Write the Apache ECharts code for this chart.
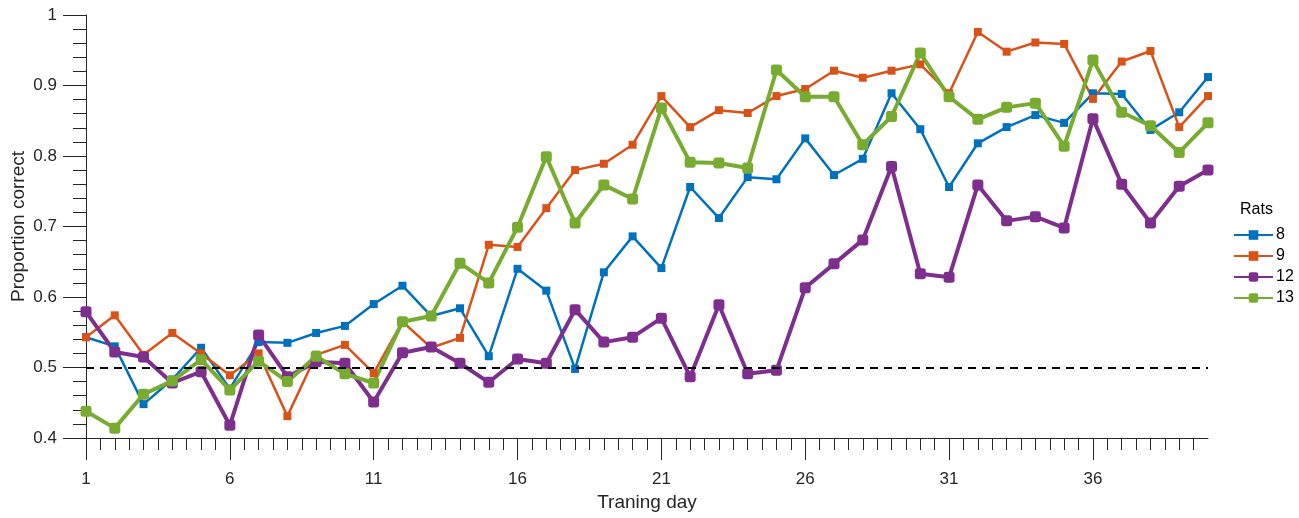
<!DOCTYPE html>
<html>
<head>
<meta charset="utf-8">
<script src="https://cdn.jsdelivr.net/npm/echarts@6/dist/echarts.min.js"></script>
<style>
html,body{margin:0;padding:0;background:#fff;}
#chart{width:1299px;height:518px;}
</style>
</head>
<body>
<div id="chart"></div>
<script>
var days = [1,2,3,4,5,6,7,8,9,10,11,12,13,14,15,16,17,18,19,20,21,22,23,24,25,26,27,28,29,30,31,32,33,34,35,36,37,38,39,40];
var rat8  = [0.543,0.530,0.448,0.483,0.528,0.470,0.536,0.535,0.549,0.559,0.590,0.616,0.573,0.584,0.516,0.640,0.609,0.498,0.635,0.686,0.641,0.756,0.712,0.770,0.767,0.825,0.773,0.796,0.889,0.838,0.756,0.818,0.841,0.858,0.847,0.889,0.888,0.837,0.862,0.912];
var rat9  = [0.543,0.574,0.518,0.549,0.520,0.489,0.520,0.431,0.518,0.532,0.492,0.565,0.528,0.542,0.674,0.671,0.726,0.780,0.789,0.816,0.885,0.841,0.865,0.861,0.885,0.895,0.921,0.911,0.921,0.930,0.889,0.976,0.948,0.961,0.959,0.881,0.934,0.949,0.841,0.885];
var rat12 = [0.579,0.522,0.515,0.478,0.494,0.418,0.546,0.487,0.508,0.506,0.451,0.521,0.529,0.506,0.479,0.512,0.506,0.582,0.536,0.543,0.570,0.487,0.589,0.491,0.496,0.613,0.647,0.681,0.785,0.633,0.628,0.759,0.708,0.714,0.698,0.853,0.760,0.705,0.757,0.780];
var rat13 = [0.438,0.414,0.462,0.481,0.511,0.468,0.509,0.480,0.516,0.491,0.478,0.565,0.573,0.648,0.620,0.699,0.799,0.705,0.759,0.739,0.868,0.791,0.790,0.783,0.922,0.884,0.884,0.816,0.856,0.946,0.884,0.852,0.869,0.875,0.814,0.936,0.862,0.843,0.805,0.847];
var seriesNames = ['8','9','12','13'];
var chanceLevel = 0.5;
var xMajorTicks = [1,6,11,16,21,26,31,36];
var xMinorTicks = [1.5,2,2.5,3,3.5,4,4.5,5,5.5,6.5,7,7.5,8,8.5,9,9.5,10,10.5,11.5,12,12.5,13,13.5,14,14.5,15,15.5,16.5,17,17.5,18,18.5,19,19.5,20,20.5,21.5,22,22.5,23,23.5,24,24.5,25,25.5,26.5,27,27.5,28,28.5,29,29.5,30,30.5,31.5,32,32.5,33,33.5,34,34.5,35,35.5,36.5,37,37.5,38,38.5,39,39.5];
var yTicks = [0.4,0.5,0.6,0.7,0.8,0.9,1];

function pairs(vals){ return days.map(function(d,i){ return [d, vals[i]]; }); }

var FONT = '"Liberation Sans", Arial, Helvetica, sans-serif';
var TXT = '#262626';
var colors = ['#0072BD','#D95319','#7E2F8E','#77AC30'];
var allVals = [rat8, rat9, rat12, rat13];
var widths = [2.5,2.5,4,4];
var symSizes = [8,8,11,11];
var syms = ['rect','rect','roundRect','roundRect'];

var series = [{
  name: 'chance', type: 'line', data: [], silent: true,
  markLine: {
    silent: true, symbol: ['none','none'], label: {show:false},
    lineStyle: {color:'#000', type:[8,6], width:2},
    emphasis: {disabled:true},
    data: [{yAxis: chanceLevel}]
  }
}];
seriesNames.forEach(function(n,i){
  series.push({
    name: n, type: 'line', data: pairs(allVals[i]),
    symbol: syms[i], symbolSize: symSizes[i],
    showAllSymbol: true,
    lineStyle: {color: colors[i], width: widths[i]},
    itemStyle: {color: colors[i]},
    emphasis: {disabled: true},
    animation: false
  });
});

var chart = echarts.init(document.getElementById('chart'));
chart.setOption({
  animation: false,
  backgroundColor: '#fff',
  textStyle: {fontFamily: FONT},
  grid: {left: 86, right: 91, top: 15, bottom: 80, containLabel: false, outerBoundsMode: 'none'},
  title: {
    text: 'Rats', left: 1240, top: 202, padding: 0,
    textStyle: {fontFamily: FONT, fontSize: 16, fontWeight: 'normal', color: '#000'}
  },
  legend: {
    data: seriesNames, orient: 'vertical', left: 1233, top: 227, padding: 0,
    itemWidth: 39, itemHeight: 12, itemGap: 5,
    textStyle: {fontFamily: FONT, fontSize: 16, color: '#000', padding:[0,0,0,-2]},
    selectedMode: false
  },
  xAxis: [{
    type: 'value', min: 1, max: 40,
    name: 'Traning day', nameLocation: 'middle', nameGap: 55, nameMoveOverlap: false,
    nameTextStyle: {fontFamily: FONT, fontSize: 19, color: TXT},
    axisLine: {show: true, onZero: false, lineStyle: {color: TXT, width: 1}},
    axisTick: {show: true, length: 22, lineStyle: {color: TXT, width: 1}, customValues: xMajorTicks},
    axisLabel: {show: true, margin: 33, fontSize: 17, color: TXT, fontFamily: FONT, customValues: xMajorTicks},
    splitLine: {show: false}
  },{
    type: 'value', min: 1, max: 40, position: 'bottom',
    axisLine: {show: false},
    axisTick: {show: true, length: 12, lineStyle: {color: TXT, width: 1}, customValues: xMinorTicks},
    axisLabel: {show: false},
    splitLine: {show: false}
  }],
  yAxis: {
    type: 'value', min: 0.4, max: 1, interval: 0.1,
    name: 'Proportion correct', nameLocation: 'middle', nameGap: 58, nameRotate: 90, nameMoveOverlap: false,
    nameTextStyle: {fontFamily: FONT, fontSize: 19, color: TXT},
    axisLine: {show: true, onZero: false, lineStyle: {color: TXT, width: 1}},
    axisTick: {show: true, length: 23, lineStyle: {color: TXT, width: 1}},
    minorTick: {show: true, splitNumber: 5, length: 13, lineStyle: {color: TXT, width: 1}},
    axisLabel: {margin: 29, fontSize: 17, color: TXT, fontFamily: FONT,
      formatter: function(v){ return String(Math.round(v*10)/10); }},
    splitLine: {show: false}, minorSplitLine: {show: false}
  },
  series: series
});
</script>
</body>
</html>
